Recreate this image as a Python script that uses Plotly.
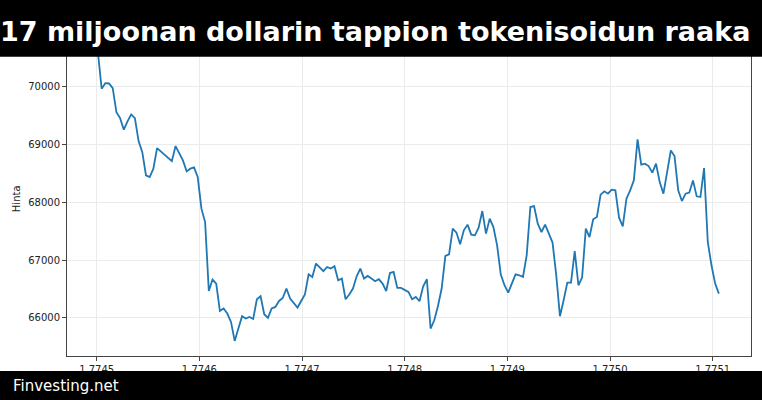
import plotly.graph_objects as go

# ---- data -------------------------------------------------------------
title_text = "17 miljoonan dollarin tappion tokenisoidun raaka"
source_text = "Finvesting.net"
y_label = "Hinta"

start_ts = 1774501200          # unix seconds, hourly samples
step_s = 3600

prices = [
    70600, 69970, 70065, 70060, 69980, 69564, 69460, 69260, 69403, 69524,
    69460, 69062, 68872, 68469, 68440, 68585, 68941, 68884, 68827, 68785,
    68716, 68976, 68855, 68728, 68538, 68585, 68607, 68440, 67893, 67661,
    66467, 66665, 66595, 66121, 66163, 66076, 65931, 65602, 65817, 66030,
    65990, 66017, 65983, 66324, 66376, 66064, 66000, 66163, 66191, 66294,
    66346, 66509, 66336, 66267, 66180, 66294, 66405, 66756, 66710, 66941,
    66875, 66810, 66882, 66855, 66895, 66653, 66682, 66324, 66405, 66509,
    66722, 66855, 66682, 66727, 66682, 66635, 66670, 66595, 66467, 66778,
    66796, 66519, 66519, 66479, 66450, 66324, 66364, 66289, 66549, 66670,
    65817, 65960, 66208, 66509, 67075, 67102, 67547, 67478, 67275, 67518,
    67616, 67443, 67431, 67564, 67851, 67460, 67720, 67574, 67258, 66751,
    66566, 66440, 66595, 66756, 66739, 66710, 67085, 67921, 67938, 67633,
    67488, 67616, 67460, 67305, 66740, 66030, 66306, 66613, 66613, 67159,
    66566, 66699, 67547, 67401, 67708, 67747, 68135, 68192, 68152, 68221,
    68209, 67737, 67587, 68066, 68209, 68382, 69092, 68654, 68671, 68630,
    68516, 68671, 68353, 68152, 68526, 68901, 68803, 68209, 68024, 68152,
    68170, 68382, 68106, 68094, 68595, 67315, 66912, 66595, 66422,
]

x_ticks = [1.7745, 1.7746, 1.7747, 1.7748, 1.7749, 1.7750, 1.7751]
x_tick_labels = ["1.7745", "1.7746", "1.7747", "1.7748", "1.7749", "1.7750", "1.7751"]
y_ticks = [66000, 67000, 68000, 69000, 70000]
y_tick_labels = ["66000", "67000", "68000", "69000", "70000"]

timestamps = [start_ts + i * step_s for i in range(len(prices))]
x_vals = [t / 1e9 for t in timestamps]

# ---- layout geometry (pixels) ----------------------------------------
W, H = 762, 400
L, R, T, B = 67, 11, 31, 44.3
pw, ph = W - L - R, H - T - B


def px_x(p):
    return (p - L) / pw


def px_y(p):
    return (H - B - p) / ph


fig = go.Figure()
fig.add_trace(go.Scatter(
    x=x_vals, y=prices, mode="lines",
    line=dict(color="#1f77b4", width=1.8),
    hoverinfo="skip",
))

axis_common = dict(
    showgrid=True, gridcolor="#ebebeb", gridwidth=1,
    showline=True, linecolor="#444444", linewidth=1, mirror=True,
    ticks="outside", ticklen=4, tickcolor="#444444", tickwidth=1,
    zeroline=False,
    tickfont=dict(family="DejaVu Sans", size=10, color="#222222"),
)

fig.update_layout(
    width=W, height=H,
    margin=dict(l=L, r=R, t=T, b=B, pad=0),
    paper_bgcolor="white", plot_bgcolor="white",
    showlegend=False,
    xaxis=dict(range=[1.77447107, 1.7751373], tickvals=x_ticks,
               ticktext=x_tick_labels, **axis_common),
    yaxis=dict(range=[65341, 70969], tickvals=y_ticks,
               ticktext=y_tick_labels, **axis_common),
    shapes=[
        dict(type="rect", xref="paper", yref="paper", layer="above",
             x0=px_x(-20), x1=px_x(W + 20), y0=px_y(56.7), y1=px_y(-20),
             fillcolor="black", line=dict(width=0)),
        dict(type="rect", xref="paper", yref="paper", layer="above",
             x0=px_x(-20), x1=px_x(W + 20), y0=px_y(H + 20), y1=px_y(370.7),
             fillcolor="black", line=dict(width=0)),
    ],
    annotations=[
        dict(text=title_text, xref="paper", yref="paper",
             x=px_x(-2), y=px_y(31), xanchor="left", yanchor="middle",
             showarrow=False,
             font=dict(family="DejaVu Sans", size=27, color="white",
                       weight="bold")),
        dict(text=source_text, xref="paper", yref="paper",
             x=px_x(11), y=px_y(385.5), xanchor="left", yanchor="middle",
             showarrow=False,
             font=dict(family="DejaVu Sans", size=15, color="white")),
        dict(text=y_label, xref="paper", yref="paper",
             x=px_x(16), y=px_y(199), xanchor="center", yanchor="middle",
             textangle=-90, showarrow=False,
             font=dict(family="DejaVu Sans", size=10, color="#222222")),
    ],
)

fig.write_html("out.html", config={"displayModeBar": False},
               post_script="document.body.style.margin='0';")
